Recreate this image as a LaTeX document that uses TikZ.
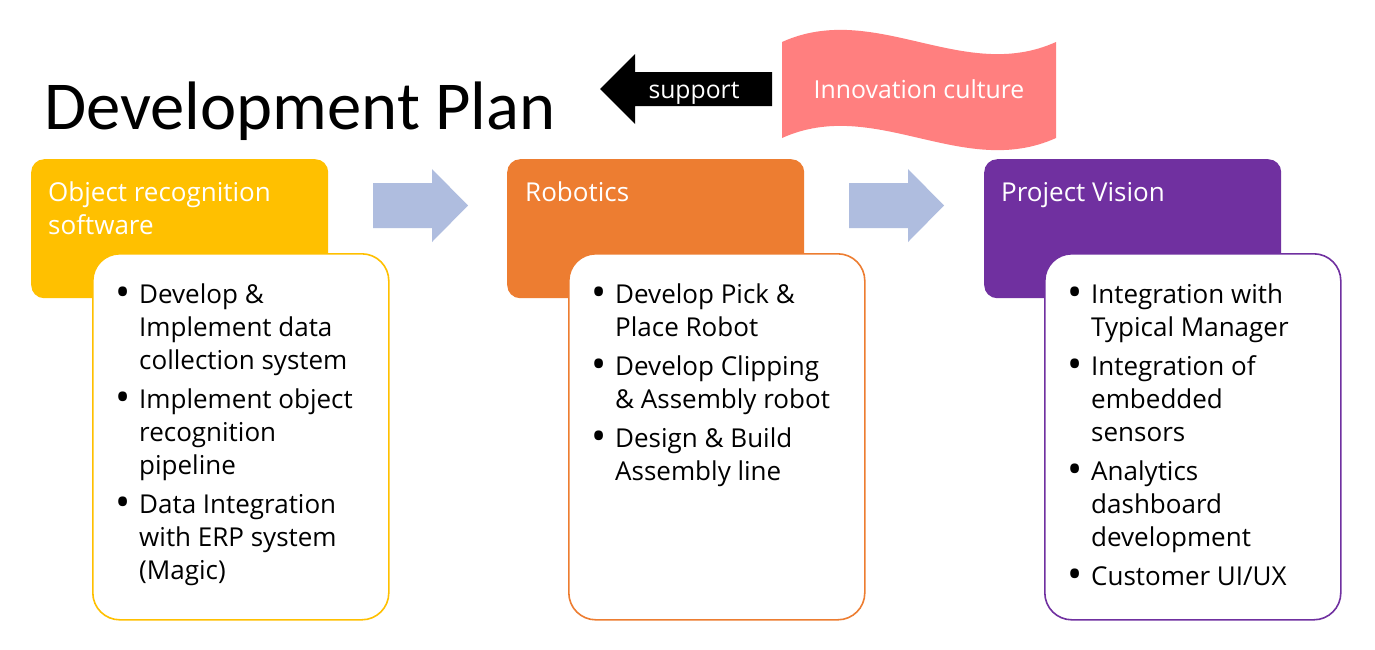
\documentclass[tikz,border=0pt]{standalone}
\usepackage{fontspec}
\setmainfont{Open Sans}
\newfontfamily\titlefont{Carlito}
\definecolor{cyellow}{HTML}{FFC000}
\definecolor{corange}{HTML}{ED7D31}
\definecolor{cpurple}{HTML}{7030A0}
\definecolor{cblue}{HTML}{AFBDDF}
\definecolor{cwave}{HTML}{FF7F7F}
\newcommand{\bfs}{\fontsize{26}{33}\selectfont}
\newcommand{\bul}{\makebox[21pt][l]{\hspace{-2.5pt}\raisebox{-0.12em}{\scalebox{1.55}{\textbullet}}}}
\tikzset{
  headbox/.style={anchor=north west, minimum width=297pt, minimum height=139pt, rounded corners=13pt, inner sep=0pt},
  listbox/.style={anchor=north west, minimum width=296pt, minimum height=366pt, rounded corners=27pt, fill=white, line width=1.6pt, inner sep=0pt},
  headtext/.style={anchor=base west, inner sep=0pt, text=white, font=\bfs},
  listtext/.style={anchor=base west, inner sep=0pt, text=black, font=\bfs},
  flowarrow/.style={fill=cblue, draw=none},
}
\begin{document}
\begin{tikzpicture}[x=1pt,y=-1pt]
\useasboundingbox (0,0) rectangle (1375,649);
\fill[white] (0,0) rectangle (1375,649);

% title
\node[anchor=base west, inner sep=0pt, font=\titlefont\fontsize{68.6}{80}\selectfont] (title) at (44,129) {Development Plan};

% support arrow
\fill[black] (772,72) -- (635,72) -- (635,54) -- (600,89) -- (635,124) -- (635,106) -- (772,106) -- cycle;
\node[anchor=base, inner sep=0pt, text=white, font=\fontsize{24.7}{28}\selectfont] (support) at (694,98) {support};

% innovation wave
\fill[cwave] (782,42) .. controls (875,0) and (963,84) .. (1056,42) -- (1056,138) .. controls (963,180) and (875,96) .. (782,138) -- cycle;
\node[anchor=base, inner sep=0pt, text=white, font=\fontsize{24.8}{28}\selectfont] (innov) at (919,98) {Innovation culture};

% flow arrows
\fill[flowarrow] (373,183) -- (432,183) -- (432,169) -- (468,205.5) -- (432,242) -- (432,228) -- (373,228) -- cycle;
\fill[flowarrow] (849,183) -- (908,183) -- (908,169) -- (944,205.5) -- (908,242) -- (908,228) -- (849,228) -- cycle;

% column 1
\node[headbox, fill=cyellow] (h1) at (31,159) {};
\node[listbox, draw=cyellow] (l1) at (92,253) {};
\node[headtext] (t1) at (48,201) {\begin{tabular}[t]{@{}l@{}}Object recognition\\software\end{tabular}};
\node[listtext] (b1) at (118,303) {\begin{tabular}[t]{@{}l@{}l@{}}
\bul & Develop \&\\
 & Implement data\\
 & collection system\\[6pt]
\bul & Implement object\\
 & recognition\\
 & pipeline\\[6pt]
\bul & Data Integration\\
 & with ERP system\\
 & (Magic)
\end{tabular}};

% column 2
\node[headbox, fill=corange] (h2) at (507,159) {};
\node[listbox, draw=corange] (l2) at (568,253) {};
\node[headtext] (t2) at (525,201) {Robotics};
\node[listtext] (b2) at (594,303) {\begin{tabular}[t]{@{}l@{}l@{}}
\bul & Develop Pick \&\\
 & Place Robot\\[6pt]
\bul & Develop Clipping\\
 & \& Assembly robot\\[6pt]
\bul & Design \& Build\\
 & Assembly line
\end{tabular}};

% column 3
\node[headbox, fill=cpurple] (h3) at (984,159) {};
\node[listbox, draw=cpurple] (l3) at (1044,253) {};
\node[headtext] (t3) at (1001,201) {Project Vision};
\node[listtext] (b3) at (1070,303) {\begin{tabular}[t]{@{}l@{}l@{}}
\bul & Integration with\\
 & Typical Manager\\[6pt]
\bul & Integration of\\
 & embedded\\
 & sensors\\[6pt]
\bul & Analytics\\
 & dashboard\\
 & development\\[6pt]
\bul & Customer UI/UX
\end{tabular}};
\end{tikzpicture}
\end{document}
